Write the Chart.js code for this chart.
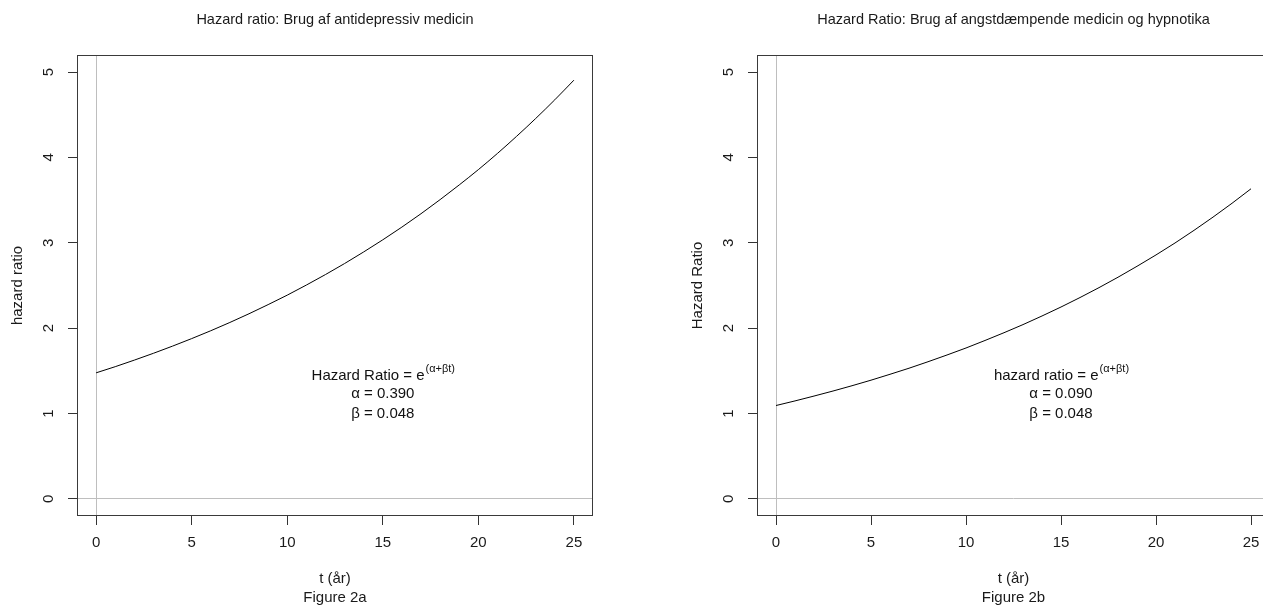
<!DOCTYPE html>
<html>
<head>
<meta charset="utf-8">
<script src="https://cdn.jsdelivr.net/npm/chart.js@4/dist/chart.umd.min.js"></script>
<style>
  body { margin: 0; background: #fff; overflow: hidden; width: 1263px; height: 605px; position: relative; }
  canvas { position: absolute; top: 0; }
  #chartA { left: 0; }
  #chartB { left: 680px; }
</style>
</head>
<body>
<canvas id="chartA" width="640" height="607"></canvas>
<canvas id="chartB" width="637" height="607"></canvas>
<script>
// t (år)
const years = [0, 1, 2, 3, 4, 5, 6, 7, 8, 9, 10, 11, 12, 13, 14, 15, 16, 17, 18, 19, 20, 21, 22, 23, 24, 25];

// hazard ratio
const hrAntidepressiv = [1.477, 1.549, 1.626, 1.706, 1.790, 1.878, 1.970, 2.067, 2.169, 2.276, 2.387,
  2.505, 2.628, 2.757, 2.893, 3.035, 3.184, 3.341, 3.506, 3.678, 3.857, 4.047, 4.247, 4.456, 4.675, 4.905];
const hrAngstdaempende = [1.094, 1.148, 1.205, 1.264, 1.326, 1.391, 1.460, 1.531, 1.607, 1.686, 1.768,
  1.856, 1.947, 2.042, 2.143, 2.248, 2.359, 2.475, 2.597, 2.725, 2.858, 2.998, 3.146, 3.301, 3.463, 3.633];

const xTicks = [0, 5, 10, 15, 20, 25];
const yTicks = [0, 1, 2, 3, 4, 5];

// annotation: [label, alpha, beta], placed at t = 15
const noteA = ["Hazard Ratio = e", "α = 0.390", "β = 0.048"];
const noteB = ["hazard ratio = e", "α = 0.090", "β = 0.048"];
const noteSup = "(α+βt)";
const noteX = 15;
const noteY = [1.44, 1.23, 1.0];

const FONT = "'Liberation Sans', Arial, sans-serif";
const INK = "#1a1a1a";

// frame round the plot region, like R's box()
const boxPlugin = {
  id: "box",
  afterDraw(chart) {
    const { ctx, chartArea: a } = chart;
    ctx.save();
    ctx.strokeStyle = "#3a3a3a";
    ctx.lineWidth = 1;
    ctx.strokeRect(a.left + 0.5, a.top + 0.5, a.right - a.left - 1, a.bottom - a.top - 1);
    ctx.restore();
  }
};

const notePlugin = {
  id: "note",
  afterDatasetsDraw(chart, args, opts) {
    const { ctx, scales } = chart;
    const cx = scales.x.getPixelForValue(noteX);
    ctx.save();
    ctx.fillStyle = "#111";
    ctx.textBaseline = "middle";
    ctx.font = "15px " + FONT;
    const w1 = ctx.measureText(opts.lines[0]).width;
    ctx.font = "11px " + FONT;
    const w2 = ctx.measureText(noteSup).width;
    let x0 = cx - (w1 + w2) / 2;
    let y0 = scales.y.getPixelForValue(noteY[0]);
    ctx.textAlign = "left";
    ctx.font = "15px " + FONT;
    ctx.fillText(opts.lines[0], x0, y0);
    ctx.font = "11px " + FONT;
    ctx.fillText(noteSup, x0 + w1 + 1, y0 - 7);
    ctx.font = "15px " + FONT;
    ctx.textAlign = "center";
    ctx.fillText(opts.lines[1], cx, scales.y.getPixelForValue(noteY[1]));
    ctx.fillText(opts.lines[2], cx, scales.y.getPixelForValue(noteY[2]));
    ctx.restore();
  }
};

function onlyZero(ctx) {
  return ctx.tick && ctx.tick.value === 0 ? "#bebebe" : "rgba(0,0,0,0)";
}

function makeChart(id, values, title, yTitle, figLabel, lines) {
  new Chart(document.getElementById(id), {
    type: "line",
    data: {
      datasets: [{
        data: years.map((t, i) => ({ x: t, y: values[i] })),
        borderColor: "#000",
        borderWidth: 1,
        pointRadius: 0,
        cubicInterpolationMode: "monotone",
        fill: false
      }]
    },
    options: {
      responsive: false,
      animation: false,
      devicePixelRatio: 1,
      layout: { padding: { left: 0, right: 47, top: 0, bottom: 0 } },
      plugins: {
        legend: { display: false },
        tooltip: { enabled: false },
        title: {
          display: true,
          text: title,
          fullSize: false,
          color: INK,
          font: { family: FONT, size: 14.5, weight: "normal", lineHeight: 1.2 },
          padding: { top: 11.5, bottom: 26.1 }
        },
        note: { lines: lines }
      },
      scales: {
        x: {
          type: "linear",
          min: -1,
          max: 26,
          afterBuildTicks: s => { s.ticks = xTicks.map(v => ({ value: v })); },
          afterFit: s => { s.height = 91; },
          grid: { color: onlyZero, tickColor: "#333", tickLength: 9, drawOnChartArea: true },
          border: { display: false },
          ticks: { color: INK, font: { family: FONT, size: 15 }, padding: 9, maxRotation: 0 },
          title: {
            display: true,
            text: ["t (år)", figLabel],
            color: INK,
            font: { family: FONT, size: 15, lineHeight: "19px" },
            padding: { top: 0, bottom: 0 }
          }
        },
        y: {
          type: "linear",
          min: -0.2,
          max: 5.2,
          afterBuildTicks: s => { s.ticks = yTicks.map(v => ({ value: v })); },
          afterFit: s => { s.width = 77; },
          grid: { color: onlyZero, tickColor: "#333", tickLength: 9, drawOnChartArea: true },
          border: { display: false },
          ticks: { color: INK, font: { family: FONT, size: 15 }, padding: 15, minRotation: 90, maxRotation: 90, crossAlign: "center" },
          title: {
            display: true,
            text: yTitle,
            color: INK,
            font: { family: FONT, size: 15 },
            padding: { top: 9, bottom: 0 }
          }
        }
      }
    },
    plugins: [boxPlugin, notePlugin]
  });
}

makeChart("chartA", hrAntidepressiv, "Hazard ratio: Brug af antidepressiv medicin", "hazard ratio", "Figure 2a", noteA);
makeChart("chartB", hrAngstdaempende, "Hazard Ratio: Brug af angstdæmpende medicin og hypnotika", "Hazard Ratio", "Figure 2b", noteB);
</script>
</body>
</html>
